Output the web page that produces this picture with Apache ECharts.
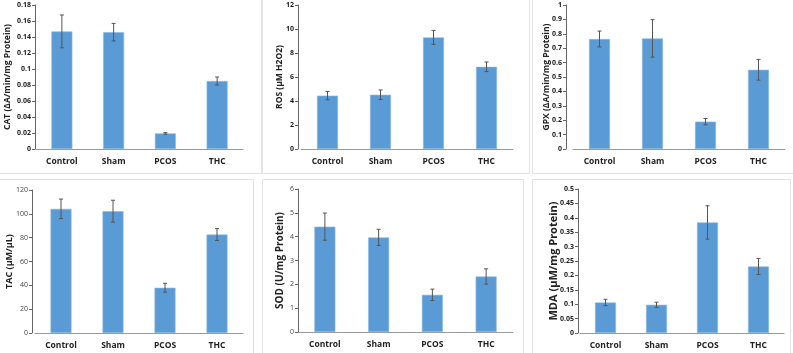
<!DOCTYPE html>
<html>
<head>
<meta charset="utf-8">
<script src="https://cdn.jsdelivr.net/npm/echarts@6/dist/echarts.min.js"></script>
<style>
  html, body { margin: 0; padding: 0; background: #fff; }
  #chart { width: 793px; height: 353px; }
</style>
</head>
<body>
<div id="chart"></div>
<script>
// 组别
const categories = ['Control', 'Sham', 'PCOS', 'THC']

// 各指标均值和误差
const catValues = [0.147, 0.146, 0.0195, 0.085]
const catErrors = [0.0205, 0.011, 0.001, 0.005]
const rosValues = [4.45, 4.52, 9.3, 6.85]
const rosErrors = [0.35, 0.4, 0.58, 0.4]
const gpxValues = [0.764, 0.768, 0.19, 0.55]
const gpxErrors = [0.055, 0.13, 0.022, 0.072]
const tacValues = [104.2, 102.2, 38, 82.6]
const tacErrors = [8.2, 9.2, 3.7, 5]
const sodValues = [4.42, 3.97, 1.56, 2.33]
const sodErrors = [0.57, 0.34, 0.24, 0.32]
const mdaValues = [0.106, 0.098, 0.384, 0.231]
const mdaErrors = [0.011, 0.009, 0.058, 0.028]

// 刻度
const catTicks = { min: 0, max: 0.18, interval: 0.02 }
const rosTicks = { min: 0, max: 12, interval: 2 }
const gpxTicks = { min: 0, max: 1, interval: 0.1 }
const tacTicks = { min: 0, max: 120, interval: 20 }
const sodTicks = { min: 0, max: 6, interval: 1 }
const mdaTicks = { min: 0, max: 0.5, interval: 0.05 }

// 面板布局
const panels = [
  { name: 'CAT (ΔA/min/mg Protein)', values: catValues, errors: catErrors, ticks: catTicks,
    grid: { left: 36, top: 5, width: 207, height: 144 }, offset: 1, nameGap: 23, nameSize: 8.5, tickBold: true },
  { name: 'ROS (µM H2O2)', values: rosValues, errors: rosErrors, ticks: rosTicks,
    grid: { left: 301, top: 5, width: 212, height: 144 }, offset: 3, nameGap: 14, nameSize: 8.5, tickBold: true },
  { name: 'GPX (ΔA/min/mg Protein)', values: gpxValues, errors: gpxErrors, ticks: gpxTicks,
    grid: { left: 573, top: 5, width: 212, height: 144 }, offset: 7, nameGap: 15, nameSize: 8.5, tickBold: true },
  { name: 'TAC (µM/µL)', values: tacValues, errors: tacErrors, ticks: tacTicks,
    grid: { left: 35, top: 190, width: 208, height: 143 }, offset: 3, nameGap: 18, nameSize: 9, tickBold: false },
  { name: 'SOD (U/mg Protein)', values: sodValues, errors: sodErrors, ticks: sodTicks,
    grid: { left: 298, top: 189, width: 215, height: 143 }, offset: 0, nameGap: 13, nameSize: 10, tickBold: false },
  { name: 'MDA (µM/mg Protein)', values: mdaValues, errors: mdaErrors, ticks: mdaTicks,
    grid: { left: 580, top: 189, width: 204, height: 144 }, offset: 2, nameGap: 19, nameSize: 11, tickBold: true },
]

// 面板边框
const boxes = [
  [-1, -1, 262, 174], [262, -1, 267, 174], [532, -1, 270, 174],
  [-1, 179, 254, 180], [262, 179, 261, 180], [532, 179, 258, 180],
]

const font = '"Open Sans", "Liberation Sans", sans-serif'

let mycharts = echarts.init(document.getElementById('chart'))

let grid = [], xAxis = [], yAxis = [], series = []
panels.forEach((p, i) => {
  grid.push(Object.assign({ outerBoundsMode: 'none', containLabel: false }, p.grid))
  xAxis.push({
    type: 'category',
    gridIndex: i,
    data: categories,
    axisLine: { lineStyle: { color: '#999', width: 1 } },
    axisTick: { show: false },
    axisLabel: { color: '#222', fontWeight: 'bold', fontSize: 8.5, fontFamily: font, margin: 8 },
  })
  yAxis.push({
    type: 'value',
    gridIndex: i,
    min: p.ticks.min,
    max: p.ticks.max,
    interval: p.ticks.interval,
    offset: p.offset,
    name: p.name,
    nameLocation: 'middle',
    nameGap: p.nameGap,
    nameMoveOverlap: false,
    nameTextStyle: { color: '#222', fontWeight: 'bold', fontSize: p.nameSize, fontFamily: font },
    axisLine: { show: true, lineStyle: { color: '#666', width: 1 } },
    axisTick: { show: true, length: 3, lineStyle: { color: '#666' } },
    splitLine: { show: false },
    axisLabel: {
      color: p.tickBold ? '#222' : '#444',
      fontWeight: p.tickBold ? 'bold' : 'normal',
      fontSize: 7,
      fontFamily: font,
      margin: 4,
    },
  })
  series.push({
    type: 'bar',
    xAxisIndex: i,
    yAxisIndex: i,
    data: p.values,
    barWidth: 21,
    itemStyle: { color: '#5B9BD5', borderColor: '#8DBAE3', borderWidth: 0.6 },
    silent: true,
  })
  // 误差线
  series.push({
    type: 'custom',
    xAxisIndex: i,
    yAxisIndex: i,
    data: p.values.map((v, k) => [k, v, p.errors[k]]),
    z: 10,
    silent: true,
    renderItem: function (params, api) {
      let x = api.value(0), v = api.value(1), e = api.value(2)
      let hi = api.coord([x, v + e])
      let lo = api.coord([x, v - e])
      let cap = 2
      let style = { stroke: '#555', lineWidth: 1 }
      return {
        type: 'group',
        children: [
          { type: 'line', shape: { x1: hi[0], y1: hi[1], x2: lo[0], y2: lo[1] }, style: style },
          { type: 'line', shape: { x1: hi[0] - cap, y1: hi[1], x2: hi[0] + cap, y2: hi[1] }, style: style },
          { type: 'line', shape: { x1: lo[0] - cap, y1: lo[1], x2: lo[0] + cap, y2: lo[1] }, style: style },
        ],
      }
    },
  })
})

mycharts.setOption({
  animation: false,
  grid: grid,
  xAxis: xAxis,
  yAxis: yAxis,
  series: series,
  graphic: boxes.map(b => ({
    type: 'rect',
    shape: { x: b[0] + 0.5, y: b[1] + 0.5, width: b[2], height: b[3] },
    style: { fill: 'none', stroke: '#e3e3e3', lineWidth: 1 },
    z: -10,
    silent: true,
  })),
})
</script>
</body>
</html>
